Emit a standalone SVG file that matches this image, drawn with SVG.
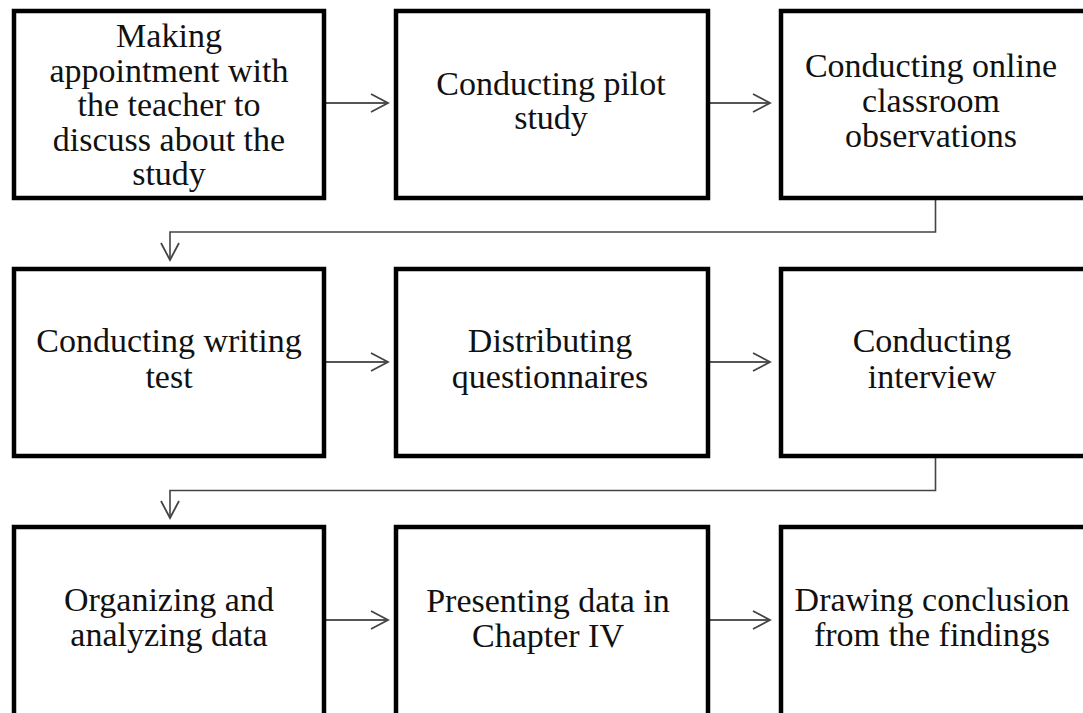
<svg xmlns="http://www.w3.org/2000/svg" width="1083" height="713" viewBox="0 0 1083 713">
<style>
.box rect{fill:#fff;stroke:#000;stroke-width:4.5}
.box text{font-family:"Liberation Serif","Times New Roman",serif;font-size:34px;fill:#111;text-anchor:middle}
.conn path{fill:none;stroke:#555;stroke-width:2.2}
.conn .elbow{stroke:#444;stroke-width:1.6}
</style>
<defs>
<marker id="ah" markerWidth="20" markerHeight="22" refX="18" refY="10" orient="auto" markerUnits="userSpaceOnUse">
<path d="M1,1 L18,10 L1,19" fill="none" stroke="#444" stroke-width="1.8"/>
</marker>
</defs>
<rect width="1083" height="713" fill="#fff"/>
<g class="conn" id="connectors">
<path d="M326,103 H388" marker-end="url(#ah)"/>
<path d="M709,103 H770" marker-end="url(#ah)"/>
<path class="elbow" d="M935.5,198 V232 H170 V260" marker-end="url(#ah)"/>
<path d="M326,362 H388" marker-end="url(#ah)"/>
<path d="M709,362 H770" marker-end="url(#ah)"/>
<path class="elbow" d="M935.5,456 V490.5 H170 V518" marker-end="url(#ah)"/>
<path d="M326,620 H388" marker-end="url(#ah)"/>
<path d="M709,620 H770" marker-end="url(#ah)"/>
</g>
<g class="box" id="n1"><rect x="14" y="11" width="310" height="187"/>
<text x="169" y="47">Making</text><text x="169" y="81.5">appointment with</text><text x="169" y="116">the teacher to</text><text x="169" y="150.5">discuss about the</text><text x="169" y="185">study</text></g>
<g class="box" id="n2"><rect x="396" y="11" width="312" height="187"/>
<text x="551" y="95">Conducting pilot</text><text x="551" y="129">study</text></g>
<g class="box" id="n3"><rect x="781" y="11" width="312" height="187"/>
<text x="931" y="77">Conducting online</text><text x="931" y="112">classroom</text><text x="931" y="147">observations</text></g>
<g class="box" id="n4"><rect x="14" y="269" width="310" height="187"/>
<text x="169" y="352">Conducting writing</text><text x="169" y="388">test</text></g>
<g class="box" id="n5"><rect x="396" y="269" width="312" height="187"/>
<text x="550" y="352">Distributing</text><text x="550" y="388">questionnaires</text></g>
<g class="box" id="n6"><rect x="781" y="269" width="312" height="187"/>
<text x="932" y="352">Conducting</text><text x="932" y="388">interview</text></g>
<g class="box" id="n7"><rect x="14" y="527" width="310" height="190"/>
<text x="169" y="611">Organizing and</text><text x="169" y="646">analyzing data</text></g>
<g class="box" id="n8"><rect x="396" y="527" width="312" height="190"/>
<text x="548" y="612">Presenting data in</text><text x="548" y="647">Chapter IV</text></g>
<g class="box" id="n9"><rect x="781" y="527" width="312" height="190"/>
<text x="932" y="611">Drawing conclusion</text><text x="932" y="646">from the findings</text></g>
</svg>
